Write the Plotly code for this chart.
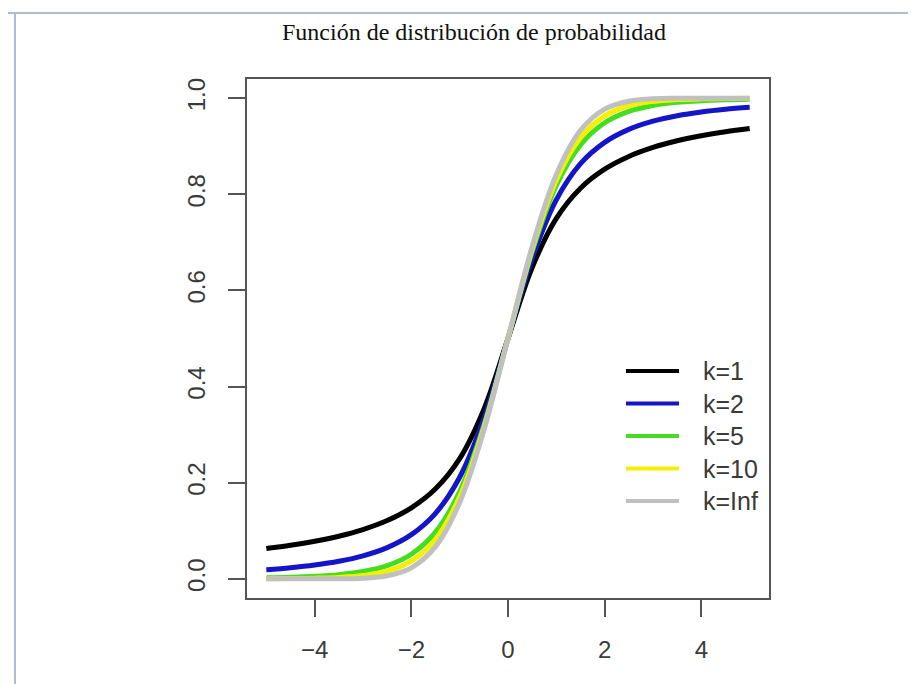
import plotly.graph_objects as go

# ---- data ----
x_vals = [-5, -4.5, -4, -3.5, -3, -2.5, -2, -1.5, -1, -0.5, 0,
          0.5, 1, 1.5, 2, 2.5, 3, 3.5, 4, 4.5, 5]
k1 = [0.0628, 0.0696, 0.0780, 0.0886, 0.1024, 0.1211, 0.1476, 0.1872, 0.2500, 0.3524, 0.5,
      0.6476, 0.7500, 0.8128, 0.8524, 0.8789, 0.8976, 0.9114, 0.9220, 0.9304, 0.9372]
k2 = [0.0189, 0.0230, 0.0286, 0.0364, 0.0477, 0.0648, 0.0918, 0.1362, 0.2113, 0.3333, 0.5,
      0.6667, 0.7887, 0.8638, 0.9082, 0.9352, 0.9523, 0.9636, 0.9714, 0.9770, 0.9811]
k5 = [0.0020, 0.0032, 0.0052, 0.0086, 0.0150, 0.0272, 0.0510, 0.0970, 0.1816, 0.3191, 0.5,
      0.6809, 0.8184, 0.9030, 0.9490, 0.9728, 0.9850, 0.9914, 0.9948, 0.9968, 0.9980]
k10 = [0.0003, 0.0006, 0.0013, 0.0029, 0.0067, 0.0157, 0.0367, 0.0823, 0.1704, 0.3140, 0.5,
       0.6860, 0.8296, 0.9177, 0.9633, 0.9843, 0.9933, 0.9971, 0.9987, 0.9994, 0.9997]
kinf = [0.0000, 0.0000, 0.0000, 0.0002, 0.0013, 0.0062, 0.0228, 0.0668, 0.1587, 0.3085, 0.5,
        0.6915, 0.8413, 0.9332, 0.9772, 0.9938, 0.9987, 0.9998, 1.0000, 1.0000, 1.0000]
series_names = ["k=1", "k=2", "k=5", "k=10", "k=Inf"]
x_ticks = [-4, -2, 0, 2, 4]
y_ticks = [0.0, 0.2, 0.4, 0.6, 0.8, 1.0]
title_text = "Función de distribución de probabilidad"

series = [k1, k2, k5, k10, kinf]
colors = ["#000000", "#1414c8", "#44dd22", "#f2f200", "#c0c0c0"]

W, H = 916, 684
L, R, T, B = 239, 761, 71, 590  # plot area in pixels


def px(xp):
    return (xp - L) / (R - L)


def py(yp):
    return (B - yp) / (B - T)


fig = go.Figure()
for name, ys, c in zip(series_names, series, colors):
    fig.add_trace(go.Scatter(x=x_vals, y=ys, mode="lines", name=name,
                             line=dict(color=c, width=5, shape="spline", smoothing=1.0),
                             showlegend=False))

axis_common = dict(showline=True, mirror=True, linecolor="#555555", linewidth=2,
                   ticks="outside", ticklen=17, tickwidth=2, tickcolor="#555555",
                   showgrid=False, zeroline=False,
                   tickfont=dict(family="Liberation Sans, Arial, sans-serif", size=24, color="#3a3a3a"))

fig.update_layout(
    width=W, height=H,
    margin=dict(l=L, r=W - R, t=T, b=H - B),
    paper_bgcolor="white", plot_bgcolor="white",
    xaxis=dict(range=[-5.4, 5.4], tickvals=x_ticks, ticklabelstandoff=12, **axis_common),
    yaxis=dict(range=[-0.04, 1.04], tickvals=y_ticks, tickformat=".1f", tickangle=-90,
               ticklabelstandoff=13, **axis_common),
)

shapes = []
annotations = []
# outer page frame (top and left rules)
shapes.append(dict(type="line", xref="paper", yref="paper", x0=px(0), x1=px(W), y0=py(5), y1=py(5),
                   line=dict(color="#b3bccd", width=2)))
shapes.append(dict(type="line", xref="paper", yref="paper", x0=px(7), x1=px(7), y0=py(5), y1=py(H),
                   line=dict(color="#b3bccd", width=2)))

# title
annotations.append(dict(text=title_text, xref="paper", yref="paper", x=px(466), y=py(24),
                        xanchor="center", yanchor="middle", showarrow=False,
                        font=dict(family="Liberation Serif, Times New Roman, serif", size=24, color="#111111")))

# legend (no box)
for i, (name, c) in enumerate(zip(series_names, colors)):
    yy = 363 + i * 32.5
    shapes.append(dict(type="line", xref="paper", yref="paper", x0=px(618), x1=px(671),
                       y0=py(yy), y1=py(yy), line=dict(color=c, width=4)))
    annotations.append(dict(text=name, xref="paper", yref="paper", x=px(693), y=py(yy),
                            xanchor="left", yanchor="middle", showarrow=False,
                            font=dict(family="Liberation Sans, Arial, sans-serif", size=25, color="#3a3a3a")))

fig.update_layout(shapes=shapes, annotations=annotations)
fig.write_html("out.html")
